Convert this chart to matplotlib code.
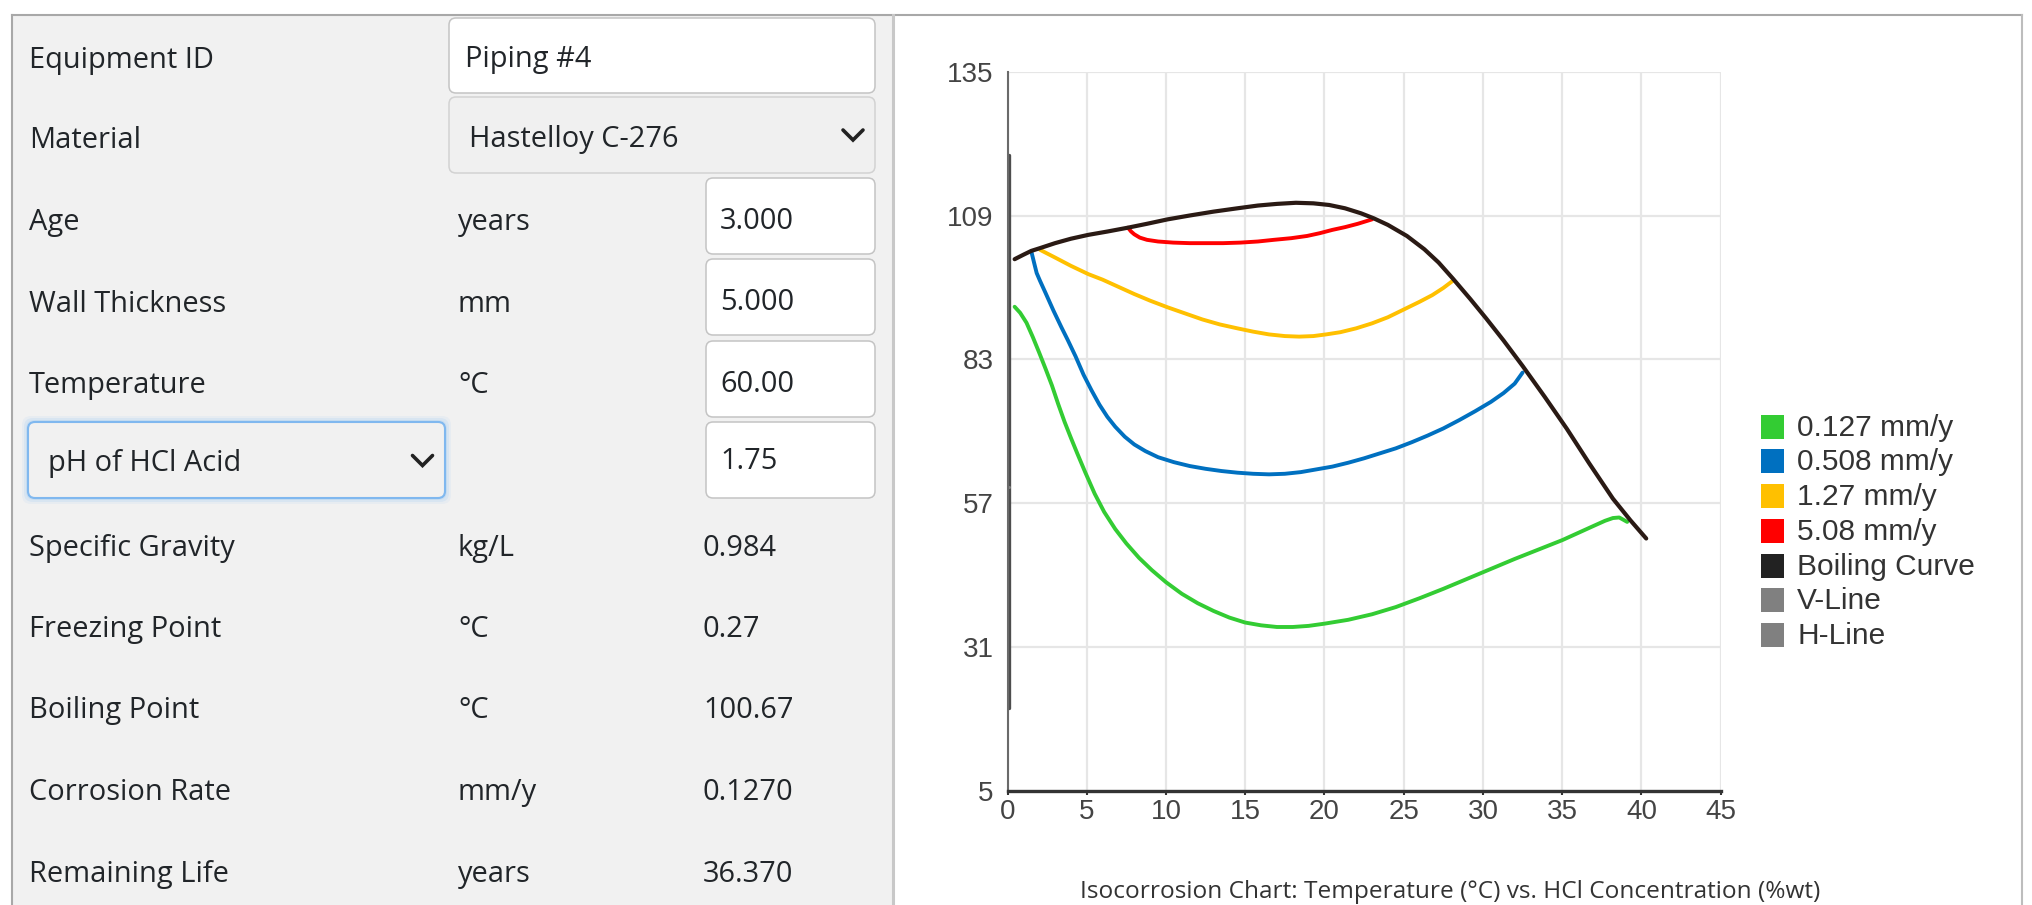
import matplotlib
matplotlib.use("Agg")
import matplotlib.pyplot as plt
from matplotlib.patches import Rectangle, FancyBboxPatch

# --- chart data (HCl concentration %wt vs temperature degC) ---
boil_x = [0.45, 1.0, 1.5, 2.05, 3.0, 4.0, 5.1, 6.3, 7.6, 8.8, 10.1, 11.5, 13.0, 14.5, 15.8,
          17.0, 18.2, 19.3, 20.3, 21.3, 22.3, 23.1, 24.0, 25.2, 26.3, 27.2, 28.1, 29.2,
          30.2, 31.3, 32.5, 33.9, 35.3, 36.7, 38.2, 39.3, 40.3]
boil_y = [101.1, 101.9, 102.6, 103.1, 104.0, 104.8, 105.5, 106.1, 106.8, 107.5, 108.3, 109.0,
          109.7, 110.3, 110.8, 111.1, 111.3, 111.2, 110.9, 110.3, 109.4, 108.5, 107.3, 105.3,
          102.9, 100.5, 97.6, 93.9, 90.4, 86.4, 81.8, 76.2, 70.4, 64.2, 57.8, 53.9, 50.6]

red_x = [7.6, 7.8, 8.0, 8.35, 8.8, 9.5, 10.45, 11.5, 12.5, 13.6, 14.7, 15.8, 16.8, 17.9,
         18.9, 19.7, 20.5, 21.3, 22.1, 23.0]
red_y = [106.8, 106.1, 105.6, 105.0, 104.6, 104.3, 104.1, 104.0, 104.0, 104.0, 104.1, 104.3,
         104.6, 104.9, 105.3, 105.8, 106.4, 106.9, 107.5, 108.3]

yel_x = [2.05, 3.0, 4.0, 5.1, 6.0, 7.0, 8.0, 9.0, 10.1, 11.2, 12.3, 13.4, 14.5, 15.5, 16.5,
         17.5, 18.4, 19.3, 20.1, 21.0, 22.0, 23.0, 24.0, 25.0, 26.0, 26.8, 27.5, 28.1]
yel_y = [102.8, 101.4, 99.9, 98.4, 97.4, 96.1, 94.8, 93.6, 92.4, 91.3, 90.2, 89.3, 88.6, 88.0,
         87.5, 87.2, 87.1, 87.2, 87.5, 87.9, 88.6, 89.5, 90.6, 92.0, 93.4, 94.6, 95.9, 97.2]

blue_x = [1.52, 1.7, 1.84, 2.05, 2.4, 2.9, 3.4, 3.8, 4.3, 4.8, 5.3, 5.8, 6.3, 6.8, 7.4, 8.0,
          8.7, 9.5, 10.5, 11.5, 12.5, 13.5, 14.5, 15.5, 16.5, 17.5, 18.5, 19.5, 20.5, 21.5,
          22.5, 23.5, 24.5, 25.5, 26.5, 27.5, 28.5, 29.5, 30.5, 31.3, 32.0, 32.5]
blue_y = [102.3, 100.2, 98.6, 97.2, 95.0, 91.8, 88.8, 86.5, 83.5, 80.2, 77.4, 74.8, 72.6,
          70.8, 69.0, 67.6, 66.4, 65.3, 64.4, 63.7, 63.2, 62.8, 62.5, 62.3, 62.2, 62.3, 62.6,
          63.1, 63.6, 64.3, 65.1, 66.0, 66.9, 68.0, 69.2, 70.5, 72.0, 73.6, 75.3, 76.9, 78.6,
          80.6]

green_x = [0.45, 0.8, 1.2, 1.6, 2.0, 2.4, 2.8, 3.2, 3.6, 4.0, 4.4, 4.9, 5.5, 6.1, 6.8, 7.5,
           8.3, 9.1, 10.0, 11.0, 12.0, 13.0, 14.0, 15.0, 16.0, 17.0, 18.0, 19.0, 20.0, 21.5,
           23.0, 24.5, 26.0, 27.5, 29.0, 30.5, 32.0, 33.5, 35.0, 36.0, 37.0, 37.7, 38.2,
           38.6, 39.1]
green_y = [92.5, 91.4, 89.6, 87.0, 84.2, 81.3, 78.3, 74.9, 71.7, 68.8, 66.0, 62.6, 58.7, 55.4,
           52.3, 49.7, 47.1, 44.9, 42.7, 40.6, 38.9, 37.5, 36.3, 35.4, 34.9, 34.6, 34.6, 34.8,
           35.2, 35.9, 36.9, 38.2, 39.8, 41.5, 43.3, 45.1, 46.9, 48.6, 50.3, 51.6, 52.9, 53.8,
           54.3, 54.4, 53.6]

vline_x = [0.1, 0.1]
vline_y = [20, 120]
hline_x = [0, 0.1]
hline_y = [60, 60]

x_ticks = [0, 5, 10, 15, 20, 25, 30, 35, 40, 45]
y_ticks = [5, 31, 57, 83, 109, 135]

legend_labels = ["0.127 mm/y", "0.508 mm/y", "1.27 mm/y", "5.08 mm/y",
                 "Boiling Curve", "V-Line", "H-Line"]
legend_colors = ["#33cc33", "#0070c0", "#ffc000", "#ff0000", "#222222", "#808080", "#808080"]

# --- form data ---
row_labels = ["Equipment ID", "Material", "Age", "Wall Thickness", "Temperature", "",
              "Specific Gravity", "Freezing Point", "Boiling Point", "Corrosion Rate",
              "Remaining Life"]
row_units = ["", "", "years", "mm", "°C", "", "kg/L", "°C", "°C", "mm/y", "years"]
row_values = ["Piping #4", "Hastelloy C-276", "3.000", "5.000", "60.00", "1.75",
              "0.984", "0.27", "100.67", "0.1270", "36.370"]
row_base = [68.3, 148.3, 230, 311.5, 393, 470.7, 556, 636.7, 717.7, 800, 881.7]

W, H = 2032, 905
fig = plt.figure(figsize=(W / 100, H / 100), dpi=100)

# background / form overlay in pixel coordinates
bg = fig.add_axes([0, 0, 1, 1], zorder=0)
bg.set_xlim(0, W)
bg.set_ylim(H, 0)
bg.axis("off")

FORM_FONT = "Open Sans"
TXT = "#212529"
FS = 20.9

bg.add_patch(Rectangle((12, 15), 881, 900, facecolor="#f1f1f1", edgecolor="none"))
bg.plot([12, 2022], [15, 15], color="#a8a8a8", lw=1.5)
bg.plot([12, 12], [15, H], color="#a8a8a8", lw=1.5)
bg.plot([893, 893], [15, H], color="#c8c8c8", lw=2.2)
bg.plot([2022, 2022], [15, H], color="#bdbdbd", lw=1.5)


def box(x0, y0, x1, y1, face="white", edge="#c4c4c4", lw=1.1):
    bg.add_patch(FancyBboxPatch((x0, y0), x1 - x0, y1 - y0,
                                boxstyle="round,pad=0,rounding_size=7",
                                facecolor=face, edgecolor=edge, lw=lw))


def chevron(cx, cy):
    bg.plot([cx - 10, cx, cx + 10], [cy - 5, cy + 5, cy - 5], color="#222222",
            lw=2.6, solid_capstyle="round", solid_joinstyle="miter")


# input boxes
box(449, 18, 875, 93)
box(449, 97, 875, 173, face="#f0f0f0", edge="#d2d2d2")
chevron(853, 135)
for top in [178, 259, 341, 422]:
    box(706, top, 875, top + 76)

# pH select with focus glow
for grow, alpha in [(6, 0.10), (4, 0.16), (2, 0.22)]:
    bg.add_patch(FancyBboxPatch((28 - grow, 422 - grow), 417 + 2 * grow, 76 + 2 * grow,
                                boxstyle="round,pad=0,rounding_size=9",
                                facecolor="#8fc1f2", edgecolor="none", alpha=alpha))
box(28, 422, 445, 498, face="#f1f1f1", edge="#80b8ef", lw=1.5)
chevron(422.5, 460.5)
bg.text(48, 470.7, "pH of HCl Acid", fontsize=FS, family=FORM_FONT, color=TXT, va="baseline")

for i, (lab, unit, val, base) in enumerate(zip(row_labels, row_units, row_values, row_base)):
    if lab:
        bg.text(29, base, lab, fontsize=FS, family=FORM_FONT, color=TXT, va="baseline")
    if unit:
        bg.text(458, base, unit, fontsize=FS, family=FORM_FONT, color=TXT, va="baseline")
    if i == 0:
        vx = 465
    elif i == 1:
        vx = 469
    elif i <= 5:
        vx = 720
    else:
        vx = 703
    vb = base - 1.5 if i <= 5 else base
    bg.text(vx, vb, val, fontsize=FS, family=FORM_FONT, color=TXT, va="baseline")

# --- chart ---
ax = fig.add_axes([1007.5 / W, 1 - 790.7 / H, 713.2 / W, 719 / H], zorder=1)
ax.set_xlim(0, 45)
ax.set_ylim(5, 135)
ax.set_xticks(x_ticks)
ax.set_yticks(y_ticks)
ax.grid(True, color="#e6e6e6", lw=1.6)
ax.set_axisbelow(True)
for side in ["top", "right"]:
    ax.spines[side].set_visible(False)
ax.spines["left"].set_color("#6a6a6a")
ax.spines["left"].set_linewidth(1.5)
ax.spines["bottom"].set_color("#333333")
ax.spines["bottom"].set_linewidth(2.4)
ax.tick_params(axis="x", length=3, width=1.5, color="#333333", pad=3,
               labelsize=20, labelcolor="#444444")
ax.tick_params(axis="y", length=0, pad=10, labelsize=20, labelcolor="#444444")
for lbl in ax.get_xticklabels() + ax.get_yticklabels():
    lbl.set_family("Liberation Sans")

curve_kw = dict(solid_capstyle="round", solid_joinstyle="round", clip_on=False)
ax.plot(vline_x, vline_y, color="#4d4d4d", lw=2.4, **curve_kw)
ax.plot(hline_x, hline_y, color="#808080", lw=2.2, **curve_kw)
ax.plot(green_x, green_y, color="#33cc33", lw=2.8, **curve_kw)
ax.plot(blue_x, blue_y, color="#0070c0", lw=2.8, **curve_kw)
ax.plot(yel_x, yel_y, color="#ffc000", lw=2.8, **curve_kw)
ax.plot(red_x, red_y, color="#ff0000", lw=2.8, **curve_kw)
ax.plot(boil_x, boil_y, color="#2a1a14", lw=3.0, **curve_kw)

# legend, drawn as colour squares with labels
for k, (lab, col) in enumerate(zip(legend_labels, legend_colors)):
    cy = 426.7 + 34.7 * k
    bg.add_patch(Rectangle((1761, cy - 12), 23, 24, facecolor=col, edgecolor="none"))
    bg.text(1797, cy + 1, lab, fontsize=21.5, family="Liberation Sans", color="#333333",
            va="center")

bg.text(1450, 897.5, "Isocorrosion Chart: Temperature (°C) vs. HCl Concentration (%wt)",
        fontsize=17.6, family=FORM_FONT, color="#333333", ha="center", va="baseline")

fig.savefig("out.png", dpi=100)
